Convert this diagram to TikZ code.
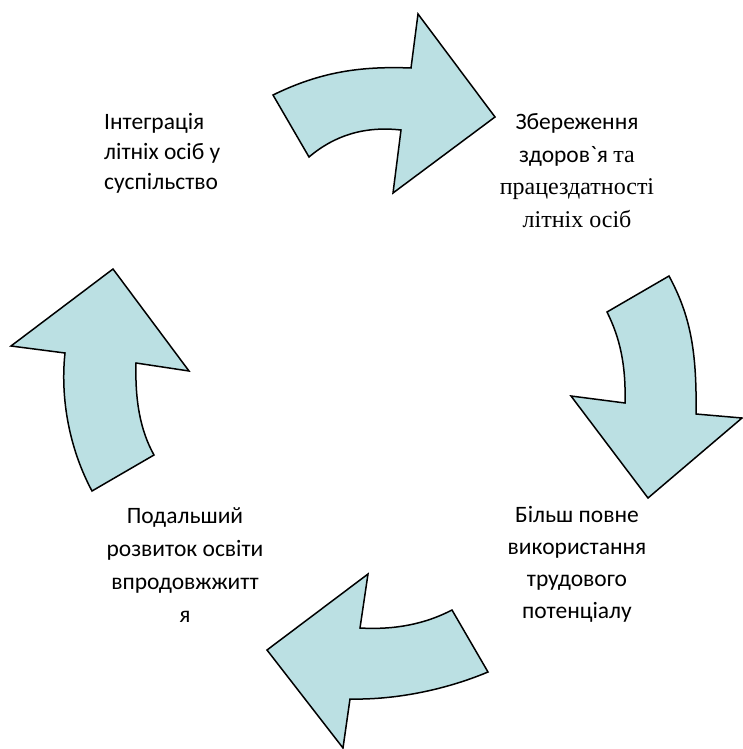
\documentclass[tikz,border=0pt]{standalone}
\usepackage{fontspec}
\setmainfont{Carlito}
\newfontfamily\rawcarlito{Carlito}
\newfontfamily\serifuk{Liberation Serif}
\definecolor{arrowfill}{RGB}{187,224,227}
\begin{document}
\begin{tikzpicture}[x=1pt,y=-1pt,
  cyclearrow/.style={draw=black,fill=arrowfill,line width=1.5pt,line join=miter},
  label/.style={inner sep=0pt,anchor=base}]
\useasboundingbox (0,0) rectangle (742,749);
% top arrow
\draw[cyclearrow] (273,95) .. controls (320,72) and (360,66) .. (411,68)
  -- (418,14) -- (495,117) -- (393,193) -- (401,130)
  .. controls (365,126) and (335,135) .. (309,157) -- cycle;
% right arrow
\draw[cyclearrow] (669,276) .. controls (690,315) and (697,350) .. (696,414)
  -- (742,418) -- (648,498) -- (571,396) -- (625,403)
  .. controls (626,365) and (620,338) .. (607,312) -- cycle;
% bottom arrow
\draw[cyclearrow] (488,672) .. controls (445,690) and (395,700) .. (350,699)
  -- (343,748) -- (267,650) -- (368,574) -- (360,628)
  .. controls (395,630) and (425,624) .. (452,610) -- cycle;
% left arrow
\draw[cyclearrow] (92,491) .. controls (70,450) and (60,400) .. (65,353)
  -- (11,346) -- (113,269) -- (189,371) -- (136,363)
  .. controls (135,400) and (140,430) .. (154,455) -- cycle;
% texts (anchor base = last line's baseline)
\node[label,align=left,anchor=base west,font=\fontsize{23.5}{30}\selectfont] (tl) at (104,189)
  {Інтеграція\\літніх осіб у\\суспільство};
\node[label,align=center,font=\fontsize{23.5}{32.5}\selectfont] (tr) at (577,227)
  {Збереження\\здоров{\rawcarlito\char96}я {\serifuk\fontsize{24}{32.5}\selectfont та}\\{\serifuk\fontsize{24}{32.5}\selectfont працездатності}\\{\serifuk\fontsize{24}{32.5}\selectfont літніх осіб}};
\node[label,align=center,font=\fontsize{23.5}{33}\selectfont] (bl) at (185,622)
  {Подальший\\розвиток освіти\\впродовжжитт\\я};
\node[label,align=center,font=\fontsize{23.5}{32}\selectfont] (br) at (577,618)
  {Більш повне\\використання\\трудового\\потенціалу};
\end{tikzpicture}
\end{document}
